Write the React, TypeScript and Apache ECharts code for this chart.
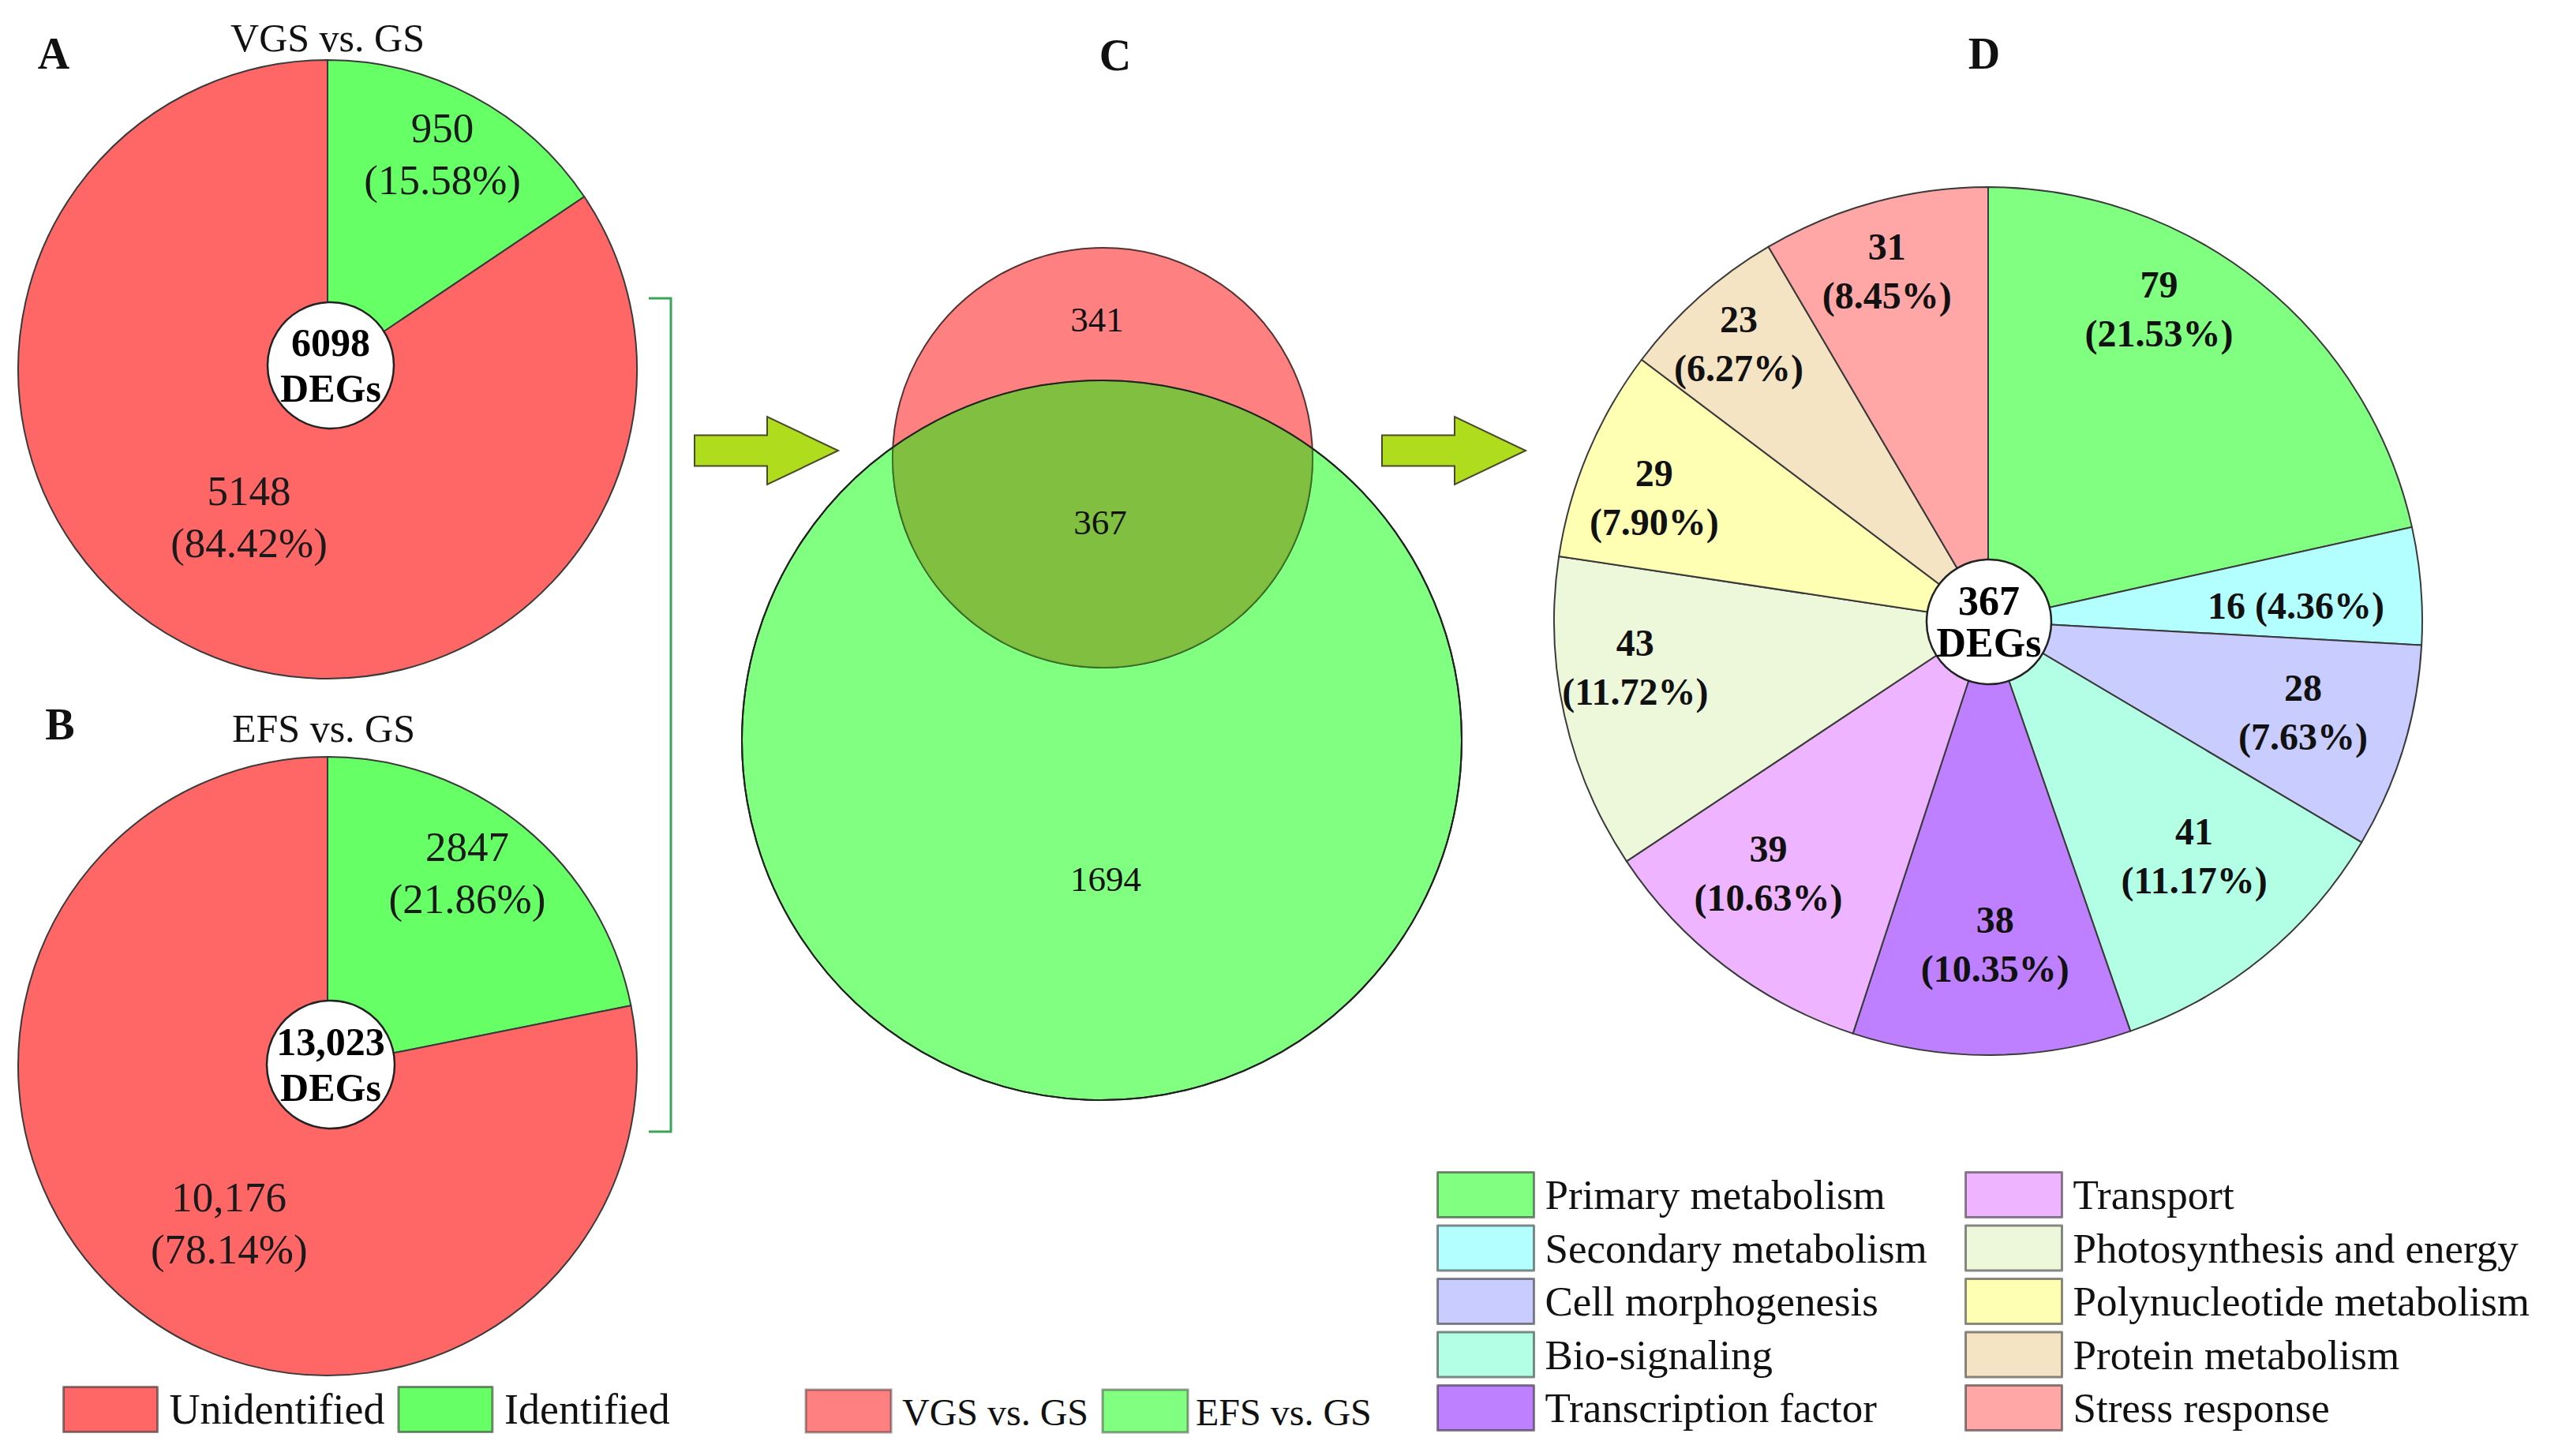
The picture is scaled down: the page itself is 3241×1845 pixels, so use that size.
import React, { useEffect, useRef } from 'react';
import * as echarts from 'echarts';

// ---------------- data ----------------
const ID_CATEGORIES = ['Identified', 'Unidentified'];
const VGS_VALUES = [950, 5148];
const EFS_VALUES = [2847, 10176];
const VGS_TOTAL_LABEL = '6098';
const EFS_TOTAL_LABEL = '13,023';

const VENN_SETS = ['VGS vs. GS', 'EFS vs. GS'];
const VENN_ONLY_VGS = 341;
const VENN_SHARED = 367;
const VENN_ONLY_EFS = 1694;

const FUNCTION_CATEGORIES = [
  'Primary metabolism',
  'Secondary metabolism',
  'Cell morphogenesis',
  'Bio-signaling',
  'Transcription factor',
  'Transport',
  'Photosynthesis and energy',
  'Polynucleotide metabolism',
  'Protein metabolism',
  'Stress response',
];
const FUNCTION_VALUES = [79, 16, 28, 41, 38, 39, 43, 29, 23, 31];
const SHARED_TOTAL_LABEL = '367';

// ---------------- styles ----------------
const FONT = "'Liberation Serif', 'Times New Roman', Times, serif";
const ID_COLORS = ['#66FF66', '#FF6666'];
const FUNCTION_COLORS = [
  '#80FF80', '#B3FFFF', '#C8CCFF', '#B3FFE6', '#BF80FF',
  '#EEB4FF', '#EDF8DA', '#FFFFB3', '#F5E4C3', '#FFA6A6',
];
const VENN_COLORS = ['#FF8080', '#80FF80'];
const VENN_OVERLAP = '#80BF40';

const PIE_A = { cx: 415, cy: 468, r: 392 };
const PIE_B = { cx: 415, cy: 1351, r: 392 };
const PIE_D = { cx: 2519, cy: 787, r: 550 };

// label placement inside slices: fraction along the slice's angular span, fraction of radius
const A_LABEL_SPAN = [0.5, 0.5];
const A_LABEL_RAD = [0.79, 0.54];
const B_LABEL_SPAN = [0.456, 0.474];
const B_LABEL_RAD = [0.77, 0.6];
const D_LABEL_SPAN = [0.37, 0.61, 0.47, 0.45, 0.48, 0.6, 0.62, 0.41, 0.49, 0.47];
const D_LABEL_RAD = [0.82, 0.71, 0.755, 0.72, 0.745, 0.77, 0.82, 0.82, 0.86, 0.84];

const VENN_RED = { cx: 1397, cy: 580, r: 266 };
const VENN_GREEN = { cx: 1396, cy: 938, r: 456 };

const fmtCount = (n: number) => (n >= 10000 ? n.toLocaleString('en-US') : String(n));
const sum = (a: number[]) => a.reduce((s, v) => s + v, 0);

function labelPlacer(pie: any, values: number[], span: number[], rad: number[]) {
  const total = sum(values);
  const starts: number[] = [];
  let acc = 0;
  values.forEach((v) => {
    starts.push(acc);
    acc += v;
  });
  return (p: any) => {
    const i = p.dataIndex;
    const ang = ((starts[i] + values[i] * span[i]) / total) * Math.PI * 2;
    const rr = pie.r * rad[i];
    return {
      x: pie.cx + Math.sin(ang) * rr,
      y: pie.cy - Math.cos(ang) * rr,
      align: 'center',
      verticalAlign: 'middle',
    };
  };
}

function lensPath() {
  const a0 = VENN_RED, b0 = VENN_GREEN;
  const dx = b0.cx - a0.cx, dy = b0.cy - a0.cy;
  const d = Math.hypot(dx, dy);
  const a = (d * d + a0.r * a0.r - b0.r * b0.r) / (2 * d);
  const h = Math.sqrt(a0.r * a0.r - a * a);
  const px = a0.cx + (a * dx) / d, py = a0.cy + (a * dy) / d;
  const right = [px + (h * dy) / d, py - (h * dx) / d];
  const left = [px - (h * dy) / d, py + (h * dx) / d];
  const large = a < 0 ? 1 : 0;
  return `M ${left[0]} ${left[1]} A ${a0.r} ${a0.r} 0 ${large} 0 ${right[0]} ${right[1]} A ${b0.r} ${b0.r} 0 0 0 ${left[0]} ${left[1]} Z`;
}

let lensRegistered = false;

function buildOption() {
  if (!lensRegistered) {
    echarts.graphic.registerShape('vennLens', echarts.graphic.extendPath(lensPath(), {}) as any);
    lensRegistered = true;
  }
  const vgsTotal = sum(VGS_VALUES);
  const efsTotal = sum(EFS_VALUES);
  const fnTotal = sum(FUNCTION_VALUES);

  const idData = (vals: number[]) =>
    vals.map((v, i) => ({ name: ID_CATEGORIES[i], value: v, itemStyle: { color: ID_COLORS[i] } }));

  const idLabel = (total: number) => ({
    show: true,
    position: 'inside',
    formatter: (p: any) => `${fmtCount(p.value)}\n(${((p.value / total) * 100).toFixed(2)}%)`,
    fontFamily: FONT,
    fontSize: 53,
    lineHeight: 66,
    color: '#1a1a1a',
  });

  const pieCommon = {
    type: 'pie',
    startAngle: 90,
    clockwise: true,
    avoidLabelOverlap: false,
    silent: true,
    emphasis: { disabled: true },
    labelLine: { show: false },
    itemStyle: { borderColor: '#3a3a3a', borderWidth: 2 },
  };

  const series: any[] = [
    {
      ...pieCommon,
      name: 'VGS vs. GS',
      center: [PIE_A.cx, PIE_A.cy],
      radius: [0, PIE_A.r],
      data: idData(VGS_VALUES),
      label: idLabel(vgsTotal),
      labelLayout: labelPlacer(PIE_A, VGS_VALUES, A_LABEL_SPAN, A_LABEL_RAD),
    },
    {
      ...pieCommon,
      name: 'EFS vs. GS',
      center: [PIE_B.cx, PIE_B.cy],
      radius: [0, PIE_B.r],
      data: idData(EFS_VALUES),
      label: idLabel(efsTotal),
      labelLayout: labelPlacer(PIE_B, EFS_VALUES, B_LABEL_SPAN, B_LABEL_RAD),
    },
    {
      ...pieCommon,
      name: 'Shared DEGs',
      center: [PIE_D.cx, PIE_D.cy],
      radius: [0, PIE_D.r],
      data: FUNCTION_VALUES.map((v, i) => ({
        name: FUNCTION_CATEGORIES[i],
        value: v,
        itemStyle: { color: FUNCTION_COLORS[i] },
      })),
      label: {
        show: true,
        position: 'inside',
        formatter: (p: any) => {
          const pct = ((p.value / fnTotal) * 100).toFixed(2);
          return p.value / fnTotal < 0.05 ? `${p.value} (${pct}%)` : `${p.value}\n(${pct}%)`;
        },
        fontFamily: FONT,
        fontSize: 48,
        fontWeight: 'bold',
        lineHeight: 62,
        color: '#111',
      },
      labelLayout: labelPlacer(PIE_D, FUNCTION_VALUES, D_LABEL_SPAN, D_LABEL_RAD),
    },
  ];

  const legendBase = {
    padding: 0,
    icon: 'rect',
    selectedMode: false,
    itemStyle: { borderColor: 'rgba(40,40,40,0.55)', borderWidth: 3 },
  };

  const legend: any[] = [
    {
      ...legendBase,
      data: ['Unidentified', 'Identified'],
      orient: 'horizontal',
      left: 79,
      top: 1756,
      itemWidth: 119,
      itemHeight: 57,
      itemGap: 16,
      textStyle: { fontFamily: FONT, fontSize: 54, color: '#111', padding: [0, 0, 0, 10] },
    },
    {
      ...legendBase,
      data: FUNCTION_CATEGORIES.slice(0, 5),
      orient: 'vertical',
      left: 1820,
      top: 1484,
      itemWidth: 122,
      itemHeight: 57,
      itemGap: 7.5,
      textStyle: { fontFamily: FONT, fontSize: 53, lineHeight: 56, color: '#111', padding: [0, 0, 0, 9] },
    },
    {
      ...legendBase,
      data: FUNCTION_CATEGORIES.slice(5),
      orient: 'vertical',
      left: 2489,
      top: 1484,
      itemWidth: 122,
      itemHeight: 57,
      itemGap: 7.5,
      textStyle: { fontFamily: FONT, fontSize: 53, lineHeight: 56, color: '#111', padding: [0, 0, 0, 9] },
    },
  ];

  const text = (t: string, x: number, y: number, size: number, bold = false, align = 'center', z = 50) => ({
    type: 'text',
    z,
    style: {
      text: t,
      x,
      y,
      fill: '#111',
      fontFamily: FONT,
      fontSize: size,
      fontWeight: bold ? 'bold' : 'normal',
      textAlign: align,
      textVerticalAlign: 'middle',
      align,
      verticalAlign: 'middle',
    },
  });

  const centerBadge = (x: number, y: number, r: number, label: string, size: number, lh: number) => [
    { type: 'circle', z: 40, shape: { cx: x, cy: y, r }, style: { fill: '#fff', stroke: '#222', lineWidth: 2.5 } },
    {
      type: 'text',
      z: 41,
      style: {
        text: `${label}\nDEGs`,
        x,
        y,
        fill: '#000',
        fontFamily: FONT,
        fontSize: size,
        fontWeight: 'bold',
        lineHeight: lh,
        textAlign: 'center',
        textVerticalAlign: 'middle',
        align: 'center',
        verticalAlign: 'middle',
      },
    },
  ];

  const arrow = (x0: number, cy: number) => ({
    type: 'polygon',
    z: 30,
    shape: {
      points: [
        [x0, cy - 19.5],
        [x0 + 92, cy - 19.5],
        [x0 + 92, cy - 43],
        [x0 + 182, cy],
        [x0 + 92, cy + 43],
        [x0 + 92, cy + 19.5],
        [x0, cy + 19.5],
      ],
    },
    style: { fill: '#B0DC1E', stroke: '#4a4a2a', lineWidth: 2 },
  });

  const vennLegend = (x: number, i: number, tx: number) => [
    {
      type: 'rect',
      z: 30,
      shape: { x, y: 1761, width: 108, height: 54 },
      style: { fill: VENN_COLORS[i], stroke: 'rgba(40,40,40,0.45)', lineWidth: 3 },
    },
    text(VENN_SETS[i], tx, 1789, 48, false, 'left'),
  ];

  const graphics: any[] = [
    text('A', 68, 68, 56, true),
    text('B', 76, 918, 56, true),
    text('C', 1413, 70, 56, true),
    text('D', 2514, 68, 56, true),
    text(VENN_SETS[0], 415, 48, 50),
    text(VENN_SETS[1], 410, 923, 50),
    ...centerBadge(419, 463, 80, VGS_TOTAL_LABEL, 50, 58),
    ...centerBadge(419, 1349, 81, EFS_TOTAL_LABEL, 50, 58),
    ...centerBadge(2520, 788, 79, SHARED_TOTAL_LABEL, 52, 53),
    {
      type: 'polyline',
      z: 30,
      shape: { points: [[822, 378], [850, 378], [850, 1434], [822, 1434]] },
      style: { stroke: '#3aa45a', lineWidth: 3, fill: 'none' },
    },
    arrow(880, 571),
    arrow(1751, 571),
    // Venn
    {
      type: 'circle',
      z: 20,
      shape: { cx: VENN_GREEN.cx, cy: VENN_GREEN.cy, r: VENN_GREEN.r },
      style: { fill: VENN_COLORS[1], stroke: '#222', lineWidth: 2 },
    },
    {
      type: 'circle',
      z: 21,
      shape: { cx: VENN_RED.cx, cy: VENN_RED.cy, r: VENN_RED.r },
      style: { fill: VENN_COLORS[0], stroke: '#553333', lineWidth: 2 },
    },
    { type: 'vennLens', z: 22, style: { fill: VENN_OVERLAP, stroke: 'rgba(40,110,30,0.7)', lineWidth: 2 } },
    {
      type: 'circle',
      z: 23,
      shape: { cx: VENN_GREEN.cx, cy: VENN_GREEN.cy, r: VENN_GREEN.r },
      style: { fill: 'none', stroke: '#222', lineWidth: 2 },
    },
    text(String(VENN_ONLY_VGS), 1390, 405, 45, false, 'center', 25),
    text(String(VENN_SHARED), 1394, 662, 45, false, 'center', 25),
    text(String(VENN_ONLY_EFS), 1401, 1114, 45, false, 'center', 25),
    ...vennLegend(1021, 0, 1143),
    ...vennLegend(1397, 1, 1515),
  ];

  return {
    animation: false,
    backgroundColor: '#ffffff',
    textStyle: { fontFamily: FONT },
    legend,
    series,
    graphic: { elements: graphics },
  };
}

export default function App() {
  const ref = useRef<HTMLDivElement>(null);
  useEffect(() => {
    if (!ref.current) return;
    const chart = echarts.init(ref.current, undefined, { renderer: 'svg' });
    chart.setOption(buildOption() as any);
    return () => chart.dispose();
  }, []);
  return (
    <div
      ref={ref}
      style={{ position: 'fixed', left: 0, top: 0, width: 3241, height: 1845, background: '#fff' }}
    />
  );
}
